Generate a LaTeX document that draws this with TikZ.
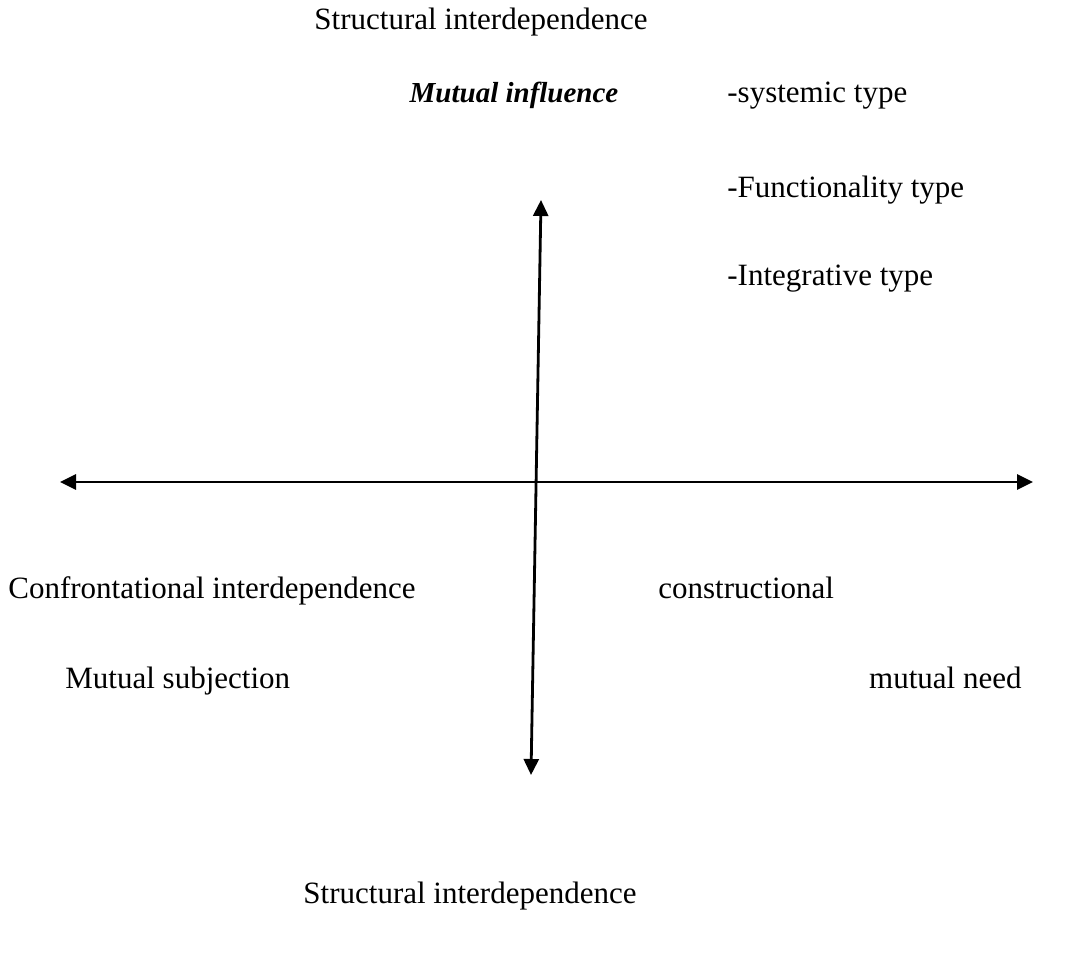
\documentclass[tikz,border=0pt]{standalone}
\usepackage{fontspec}
\setmainfont{Liberation Serif}
\usetikzlibrary{arrows.meta}
\begin{document}
\begin{tikzpicture}[x=0.5pt, y=-0.5pt,
    term/.style={font=\fontsize{15.5}{18}\selectfont, inner sep=0pt, text height=11pt, text depth=3pt},
    axis/.style={{Triangle[length=8pt,width=7.5pt]}-{Triangle[length=8pt,width=7.5pt]}, line width=1.4pt}]

    \useasboundingbox (0,0) rectangle (1065,967);

    % axis ends
    \coordinate (vtop) at (541,200);
    \coordinate (vbot) at (531,775);
    \coordinate (hleft) at (60,482);
    \coordinate (hright) at (1033,482);

    \node (top) [term] at (481,22) {Structural interdependence};
    \node (infl) [term, font=\fontsize{14.5}{18}\selectfont\bfseries\itshape] at (514,95) {Mutual influence};
    \node (sys) [term, anchor=west] at (727,95) {-systemic type};
    \node (func) [term, anchor=west] at (727,190) {-Functionality type};
    \node (integ) [term, anchor=west] at (727,278) {-Integrative type};

    \node (confr) [term, anchor=west] at (8,590) {Confrontational interdependence};
    \node (constr) [term, anchor=west] at (658,590) {constructional};
    \node (subj) [term, anchor=west] at (65,680) {Mutual subjection};
    \node (need) [term, anchor=east] at (1022,680) {mutual need};
    \node (bottom) [term] at (470,895) {Structural interdependence};

    \draw [axis] (vbot) -- (vtop);
    \draw [axis] (hleft) -- (hright);
\end{tikzpicture}
\end{document}
